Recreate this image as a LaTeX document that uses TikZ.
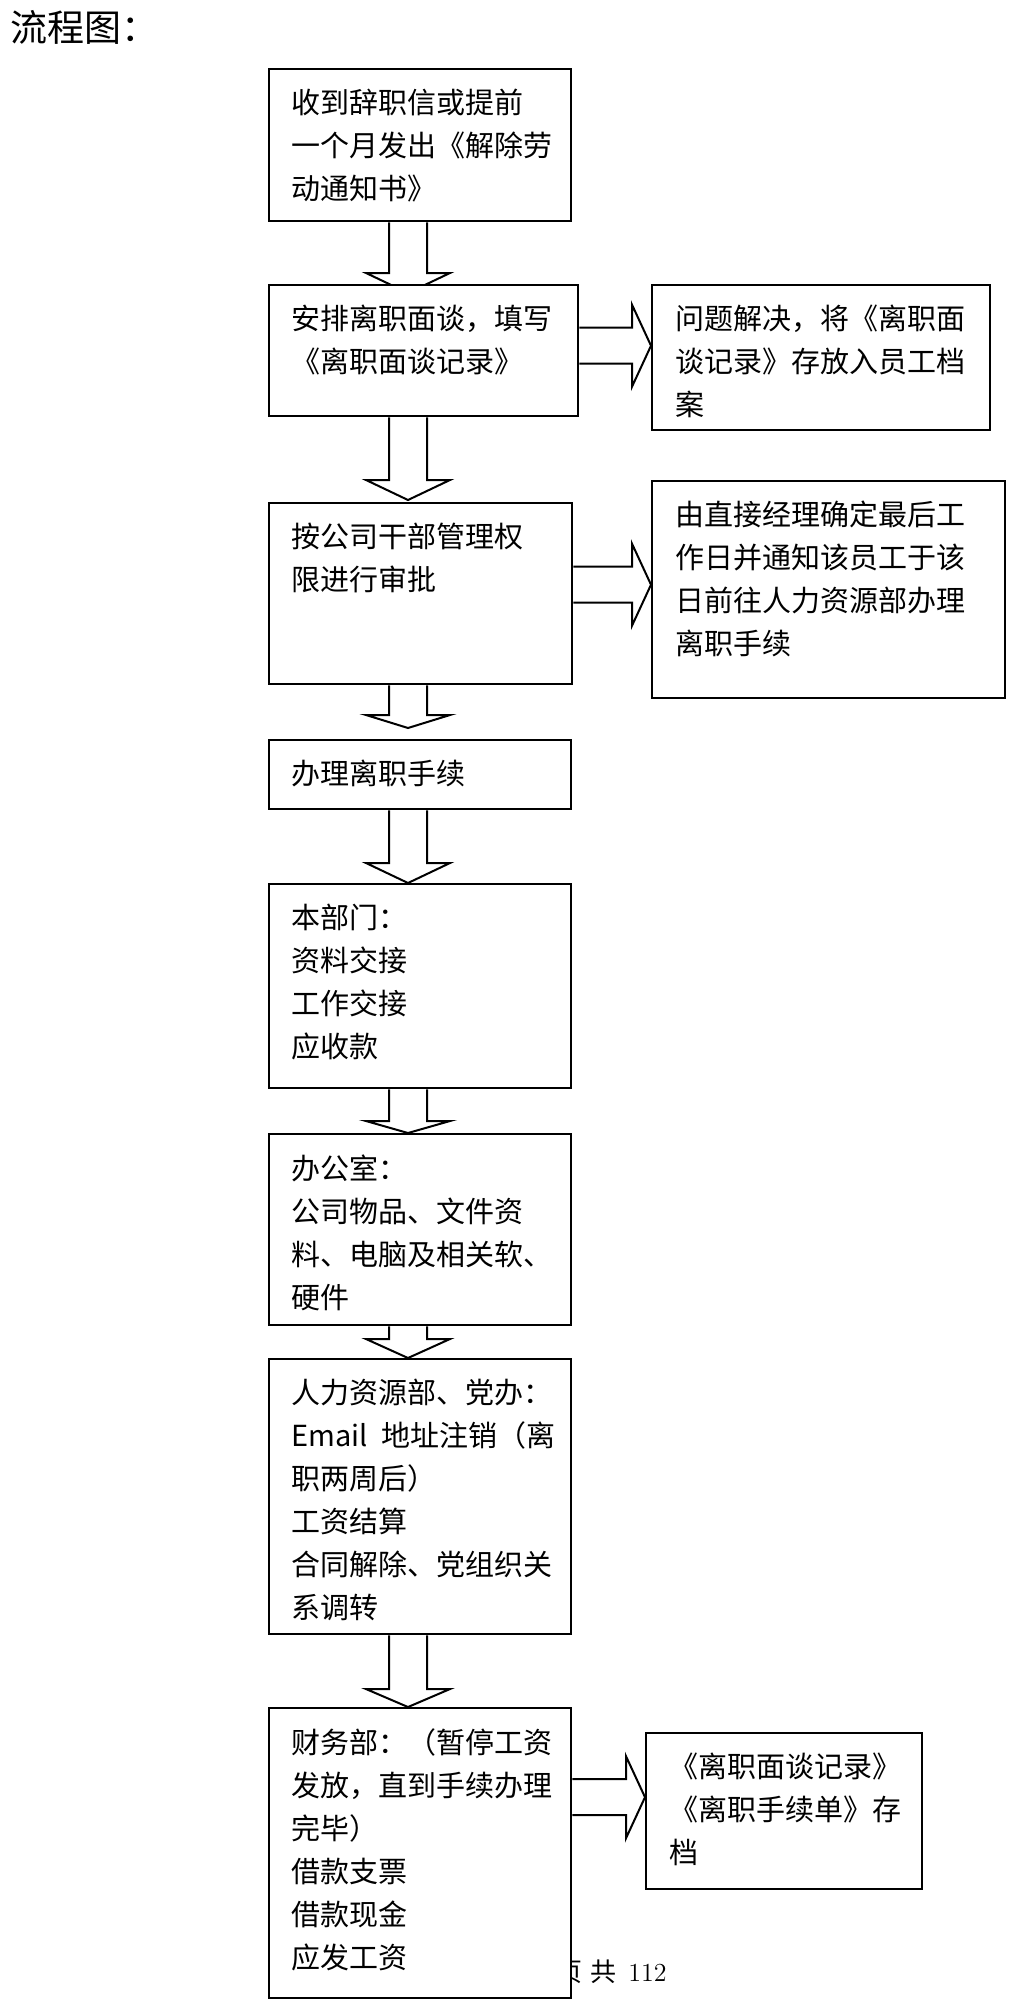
\documentclass[tikz,border=0pt]{standalone}
\usepackage{fontspec}
\newfontfamily\cjk{Noto Sans CJK SC}
\usetikzlibrary{calc, backgrounds}
\tikzset{
    flowbox/.style={
        rectangle, draw=black, line width=1.2pt, fill=white,
        anchor=north west, inner sep=0pt
    },
    boxsize/.style 2 args={minimum width=#1*0.5pt, minimum height=#2*0.5pt},
    boxtext/.style={
        anchor=north west, inner sep=0pt, align=left,
        font=\cjk\fontsize{14.5pt}{21.5pt}\selectfont
    },
    flowarrow/.style={draw=black, line width=1pt, line join=miter}
}
% down block arrow: source, target, tip offset, head length
\newcommand{\downflow}[4]{%
    \coordinate (tip) at ($(spine |- #2.north)+(0,#3)$);
    \coordinate (hb) at ($(tip)+(0,-#4)$);
    \coordinate (src) at (spine |- #1.south);
    \draw[flowarrow] ($(src)+(-19,0)$) -- ($(hb)+(-19,0)$) -- ($(hb)+(-42,0)$)
        -- (tip) -- ($(hb)+(42,0)$) -- ($(hb)+(19,0)$) -- ($(src)+(19,0)$);
}
% right block arrow: source, target, tip offset from target centre
\newcommand{\rightflow}[3]{%
    \coordinate (tip) at ($(#2.west)+(0,#3)$);
    \coordinate (hb) at ($(tip)+(-19,0)$);
    \coordinate (src) at (#1.east |- tip);
    \draw[flowarrow] ($(src)+(0,-18)$) -- ($(hb)+(0,-18)$) -- ($(hb)+(0,-41)$)
        -- (tip) -- ($(hb)+(0,41)$) -- ($(hb)+(0,18)$) -- ($(src)+(0,18)$);
}
\begin{document}
\begin{tikzpicture}[x=0.5pt, y=-0.5pt]
    \useasboundingbox (0,0) rectangle (1008,2007);
    \coordinate (spine) at (408,0);

    % Title
    \node[anchor=west, inner sep=0pt, font=\cjk\fontsize{18.5pt}{20pt}\selectfont]
        (title) at (10,27) {流程图：};

    % Main column
    \node[flowbox, boxsize={302}{152}] (b1) at (268,68) {};
    \node[flowbox, boxsize={309}{131}] (b2) at (268,284) {};
    \node[flowbox, boxsize={303}{181}] (b4) at (268,502) {};
    \node[flowbox, boxsize={302}{69}]  (b5) at (268,739) {};
    \node[flowbox, boxsize={302}{204}] (b6) at (268,883) {};
    \node[flowbox, boxsize={302}{191}] (b7) at (268,1133) {};
    \node[flowbox, boxsize={302}{275}] (b8) at (268,1358) {};
    \node[flowbox, boxsize={302}{290}] (b9) at (268,1707) {};

    % Side boxes
    \node[flowbox, boxsize={338}{145}] (r1) at (651,284) {};
    \node[flowbox, boxsize={353}{217}] (r2) at (651,480) {};
    \node[flowbox, boxsize={276}{156}] (r3) at (645,1732) {};

    % Texts
    \node[boxtext] (t1) at ($(b1.north west)+(23,21)$) {收到辞职信或提前\\一个月发出《解除劳\\动通知书》};
    \node[boxtext] (t2) at ($(b2.north west)+(23,21)$) {安排离职面谈，填写\\《离职面谈记录》};
    \node[boxtext] (t4) at ($(b4.north west)+(23,21)$) {按公司干部管理权\\限进行审批};
    \node[boxtext] (t5) at ($(b5.north west)+(23,21)$) {办理离职手续};
    \node[boxtext] (t6) at ($(b6.north west)+(23,21)$) {本部门：\\资料交接\\工作交接\\应收款};
    \node[boxtext] (t7) at ($(b7.north west)+(23,21)$) {办公室：\\公司物品、文件资\\料、电脑及相关软、\\硬件};
    \node[boxtext] (t8) at ($(b8.north west)+(23,21)$) {人力资源部、党办：\\Email\hspace{7pt}地址注销（离\\职两周后）\\工资结算\\合同解除、党组织关\\系调转};
    \node[boxtext] (t9) at ($(b9.north west)+(23,21)$) {财务部：（暂停工资\\发放，直到手续办理\\完毕）\\借款支票\\借款现金\\应发工资};
    \node[boxtext] (s1) at ($(r1.north west)+(24,21)$) {问题解决，将《离职面\\谈记录》存放入员工档\\案};
    \node[boxtext] (s2) at ($(r2.north west)+(24,21)$) {由直接经理确定最后工\\作日并通知该员工于该\\日前往人力资源部办理\\离职手续};
    \node[boxtext] (s3) at ($(r3.north west)+(24,21)$) {《离职面谈记录》\\《离职手续单》存\\档};

    \begin{scope}[on background layer]
        % Block arrows
        \downflow{b1}{b2}{9}{20}
        \downflow{b2}{b4}{-2}{20}
        \downflow{b4}{b5}{-11}{13}
        \downflow{b5}{b6}{0}{20}
        \downflow{b6}{b7}{0}{12}
        \downflow{b7}{b8}{0}{19}
        \downflow{b8}{b9}{0}{18}
        \rightflow{b2}{r1}{-12}
        \rightflow{b4}{r2}{-5}
        \rightflow{b9}{r3}{-14}

        % Page footer
        \node[anchor=west, inner sep=0pt, font=\fontsize{13pt}{15pt}\selectfont]
            (pagefoot) at (556,1972) {{\cjk 页\hspace{4pt}共}\hspace{6pt}112};
    \end{scope}
\end{tikzpicture}
\end{document}
